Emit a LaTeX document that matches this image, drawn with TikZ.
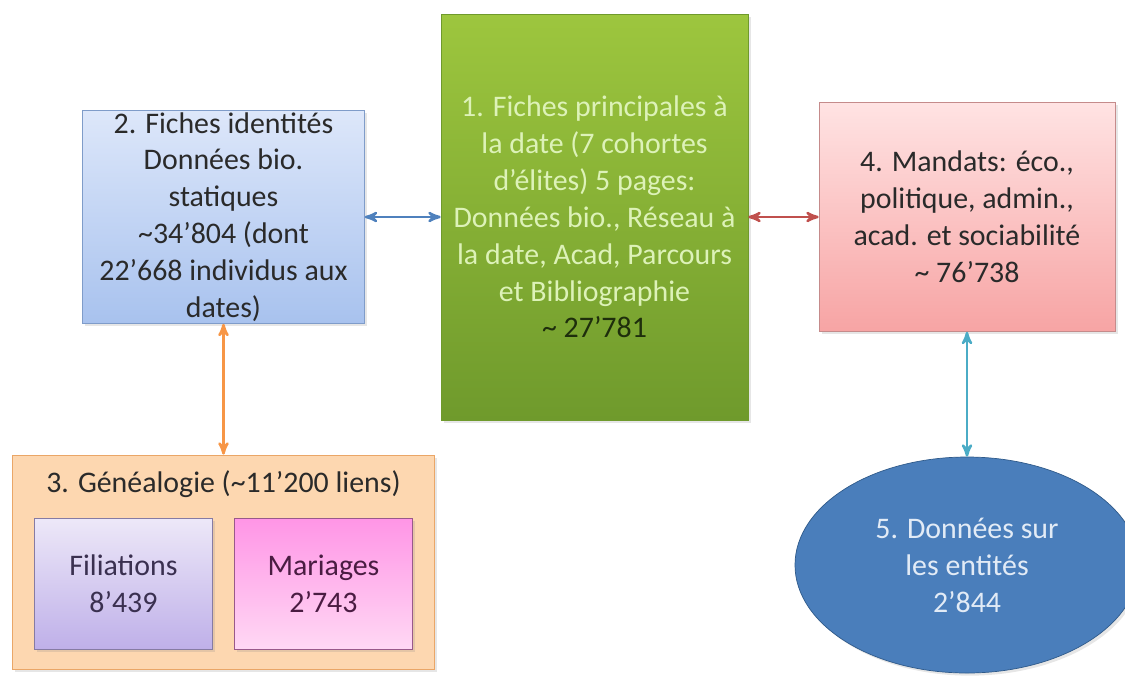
\documentclass[tikz,border=0pt]{standalone}
\usepackage{fontspec}
\setmainfont{Carlito}
\usetikzlibrary{arrows,shapes.geometric,shadows}

\definecolor{greenTop}{HTML}{9DC63E}
\definecolor{greenBot}{HTML}{6F9A2C}
\definecolor{greenTxt}{HTML}{DDF2B8}
\definecolor{greenNum}{HTML}{1E2E0C}
\definecolor{blueTop}{HTML}{DDE7FA}
\definecolor{blueBot}{HTML}{A8C2EE}
\definecolor{blueLine}{HTML}{7F9CC9}
\definecolor{pinkTop}{HTML}{FFE3E3}
\definecolor{pinkBot}{HTML}{F7A4A4}
\definecolor{pinkLine}{HTML}{C58B8B}
\definecolor{orangeFill}{HTML}{FDD7B0}
\definecolor{orangeLine}{HTML}{EAA667}
\definecolor{lilaTop}{HTML}{EDE8F8}
\definecolor{lilaBot}{HTML}{BFB0E9}
\definecolor{lilaTxt}{HTML}{3A3050}
\definecolor{magTop}{HTML}{FF95E6}
\definecolor{magBot}{HTML}{FFD8F4}
\definecolor{magTxt}{HTML}{4A1C42}
\definecolor{ovalFill}{HTML}{4A7EBB}
\definecolor{ovalLine}{HTML}{2F5A8A}
\definecolor{ovalTxt}{HTML}{E2EBF6}
\definecolor{arrBlue}{HTML}{4F81BD}
\definecolor{arrRed}{HTML}{C0504D}
\definecolor{arrOrange}{HTML}{F79646}
\definecolor{arrTeal}{HTML}{4BACC6}
\definecolor{txtDark}{HTML}{2A2A2A}

\begin{document}
\begin{tikzpicture}
          \tikzstyle{boxs} = [draw, align=center, inner sep=1pt,
            font=\fontsize{17}{21}\selectfont, text=txtDark,
            drop shadow={opacity=0.2, shadow xshift=1.5pt, shadow yshift=-1.5pt}]
          \tikzstyle{boxsG} = [boxs, draw=greenBot, top color=greenTop, bottom color=greenBot,
            text=greenTxt, minimum width=6.14cm, minimum height=8.12cm]
          \tikzstyle{boxsB} = [boxs, draw=blueLine, top color=blueTop, bottom color=blueBot,
            minimum width=5.64cm, minimum height=4.16cm]
          \tikzstyle{boxsR} = [boxs, draw=pinkLine, top color=pinkTop, bottom color=pinkBot,
            minimum width=5.92cm, minimum height=4.58cm]
          \tikzstyle{boxsO} = [boxs, draw=orangeLine, fill=orangeFill,
            minimum width=8.44cm, minimum height=4.28cm]
          \tikzstyle{boxsS} = [boxs, minimum width=3.56cm, minimum height=2.62cm]
          \tikzstyle{oval} = [boxs, ellipse, draw=ovalLine, fill=ovalFill, text=ovalTxt,
            inner sep=0pt, minimum width=6.88cm, minimum height=4.32cm]
          \tikzstyle{line} = [draw,<->,>=stealth',line width=1.4pt]

          \useasboundingbox (-11.89,-9.16) rectangle (10.61,4.34);

          \tikzset{node distance = 7.42cm}
          \node(Fiches)[boxsG]{1. Fiches principales à\\la date (7 cohortes\\d’élites) 5 pages:\\Données bio., Réseau à\\la date, Acad, Parcours\\et Bibliographie\\{\color{greenNum}\textasciitilde{} 27’781}};

          \node(Identites)[boxsB,left of = Fiches]{2. Fiches identités\\Données bio.\\statiques\\\textasciitilde34’804 (dont\\22’668 individus aux\\dates)} edge[line,arrBlue] (Fiches);

          \tikzset{node distance = 7.45cm}
          \node(Mandats)[boxsR,right of = Fiches]{4. Mandats: éco.,\\politique, admin.,\\acad. et sociabilité\\\textasciitilde{} 76’738} edge[line,arrRed] (Fiches);

          \tikzset{node distance = 6.9cm}
          \node(Genealogie)[boxsO,below of = Identites]{} edge[line,arrOrange] (Identites);
          \node(GenTitre)[anchor=north,font=\fontsize{17}{21}\selectfont,text=txtDark] at ([yshift=-0.2cm]Genealogie.north){3. Généalogie (\textasciitilde11’200 liens)};

          \tikzset{node distance = 0.43cm}
          \node(dummy1)[below of = Genealogie]{};
          \tikzset{node distance = 2.0cm}
          \node(Filiations)[boxsS,left of = dummy1,draw=lilaBot!70!black,top color=lilaTop,bottom color=lilaBot,text=lilaTxt]{Filiations\\8’439};
          \node(Mariages)[boxsS,right of = dummy1,draw=magTop!60!black,top color=magTop,bottom color=magBot,text=magTxt]{Mariages\\2’743};

          \tikzset{node distance = 6.96cm}
          \node(Entites)[oval,below of = Mandats]{5. Données sur\\les entités\\2’844} edge[line,arrTeal] (Mandats);
        \end{tikzpicture}
\end{document}
